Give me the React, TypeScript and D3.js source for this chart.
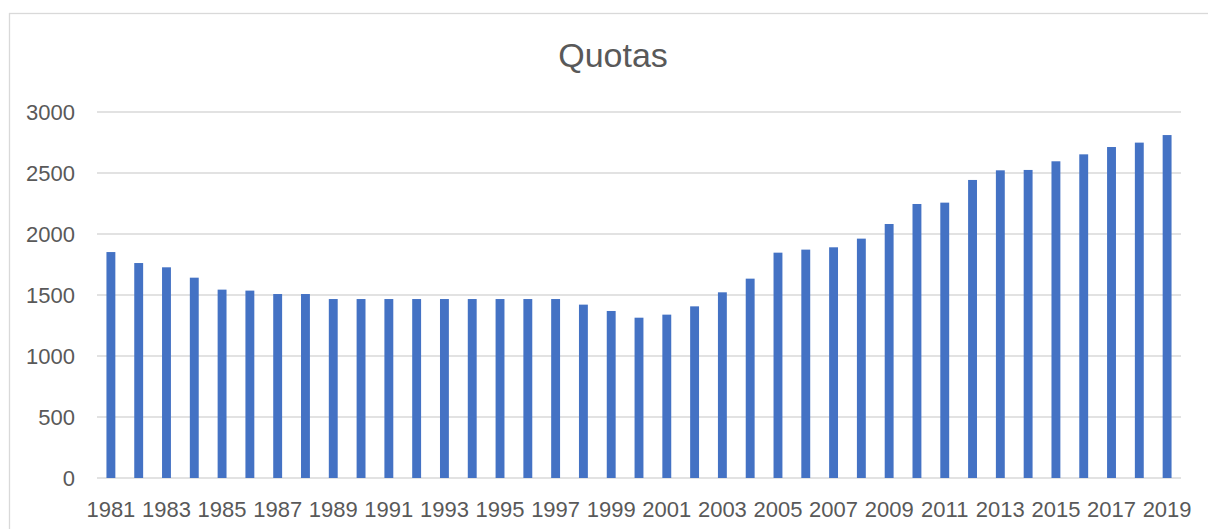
import React from "react";
import * as d3 from "d3";

const years: string[] = [
  "1981","1982","1983","1984","1985","1986","1987","1988","1989","1990",
  "1991","1992","1993","1994","1995","1996","1997","1998","1999","2000",
  "2001","2002","2003","2004","2005","2006","2007","2008","2009","2010",
  "2011","2012","2013","2014","2015","2016","2017","2018","2019",
];
const quotas: number[] = [
  1852, 1762, 1727, 1642, 1544, 1536, 1508, 1508, 1467, 1467,
  1467, 1467, 1467, 1467, 1467, 1467, 1467, 1421, 1369, 1314,
  1339, 1407, 1522, 1634, 1847, 1872, 1891, 1962, 2082, 2246,
  2257, 2443, 2522, 2525, 2596, 2653, 2713, 2749, 2811,
];
const yTicks: number[] = [0, 500, 1000, 1500, 2000, 2500, 3000];
const title = "Quotas";

export default function App() {
  const W = 1208, H = 529;
  const left = 97, right = 1181, top = 112, bottom = 478;
  const x = d3.scaleBand<string>().domain(years).range([left, right]).paddingInner(0.68).paddingOuter(0.34);
  const y = d3.scaleLinear().domain([0, 3000]).range([bottom, top]);
  const labelFont = "'Liberation Sans Narrow', 'Liberation Sans', Arial, sans-serif";
  return (
    <svg width={W} height={H} style={{ position: "absolute", left: 0, top: 0, background: "#fff" }}>
      <rect x={9.5} y={13.5} width={W + 10} height={H + 10} fill="#fff" stroke="#d9d9d9" strokeWidth={1.3} />
      <text x={613} y={67} textAnchor="middle" fill="#595959" fontSize={34} fontFamily="'Liberation Sans', Arial, sans-serif">{title}</text>
      {yTicks.map((t) => (
        <g key={t}>
          <line x1={left} x2={right} y1={y(t)} y2={y(t)} stroke="#d9d9d9" strokeWidth={1.3} />
          <text x={75} y={y(t)} dy="0.36em" textAnchor="end" fill="#595959" fontSize={22} fontFamily={labelFont}>{t}</text>
        </g>
      ))}
      {years.map((yr, i) => (
        <rect key={yr} x={x(yr)} y={y(quotas[i])} width={x.bandwidth()} height={bottom - y(quotas[i])} fill="#4472C4" />
      ))}
      {years.filter((_, i) => i % 2 === 0).map((yr) => (
        <text key={yr} x={(x(yr) as number) + x.bandwidth() / 2} y={517} textAnchor="middle" fill="#595959" fontSize={22} fontFamily={labelFont}>{yr}</text>
      ))}
    </svg>
  );
}
